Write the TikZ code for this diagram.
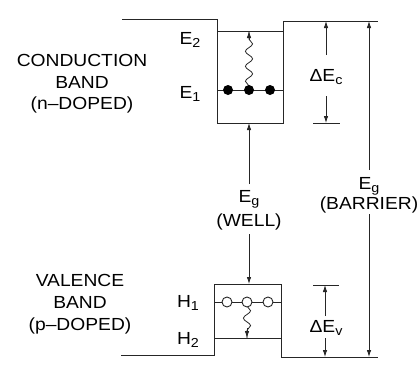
\documentclass[tikz,border=0pt]{standalone}
\usepackage{fontspec}
\setmainfont[FakeStretch=1.1]{Liberation Sans}
\usetikzlibrary{arrows.meta,decorations.pathmorphing}
\newcommand{\sbx}[1]{\raisebox{-0.35ex}{\fontsize{13}{13}\selectfont #1}}
\begin{document}
\begin{tikzpicture}[x=1pt,y=-1pt,
  line/.style={line width=0.9pt,black!85},
  arr/.style={line width=0.8pt,black!85,-{Latex[length=7pt,width=4.5pt]}},
  wavy/.style={line width=0.8pt,black!85,decorate,decoration={snake,segment length=15pt,amplitude=3.6pt,pre length=4pt,post length=7pt}},
  lbl/.style={font=\fontsize{17.5}{19}\selectfont,inner sep=0pt},
  elec/.style={circle,fill=black,inner sep=0pt,minimum size=10pt},
  hole/.style={circle,draw=black!85,line width=0.9pt,fill=white,inner sep=0pt,minimum size=10pt}]
\useasboundingbox (0,0) rectangle (417,367);
% band edges
\coordinate (cl) at (122,19);
\coordinate (wtl) at (217,19);
\coordinate (wbl) at (217,123);
\coordinate (wbr) at (283,123);
\coordinate (wtr) at (283,21);
\coordinate (cr) at (378,21);
\draw[line] (cl) -- (wtl) -- (wbl) -- (wbr) -- (wtr) -- (cr);
\coordinate (vl) at (121,355);
\coordinate (vbl) at (214,355);
\coordinate (vtl) at (214,284);
\coordinate (vtr) at (281,284);
\coordinate (vbr) at (281,357);
\coordinate (vr) at (378,357);
\draw[line] (vl) -- (vbl) -- (vtl) -- (vtr) -- (vbr) -- (vr);
% subband levels
\coordinate (e2l) at (217,31); \coordinate (e2r) at (283,31);
\coordinate (e1l) at (217,90); \coordinate (e1r) at (283,90);
\coordinate (h1l) at (214,302); \coordinate (h1r) at (281,302);
\coordinate (h2l) at (214,338); \coordinate (h2r) at (281,338);
\draw[line] (e2l) -- (e2r);
\draw[line] (e1l) -- (e1r);
\draw[line] (h1l) -- (h1r);
\draw[line] (h2l) -- (h2r);
% wavy transitions
\coordinate (e2m) at (249,31);
\coordinate (h2m) at (247,338);
\draw[wavy] (249,90) -- (e2m);
\draw[arr] (249,40) -- (e2m);
\draw[wavy] (247,302) -- (h2m);
\draw[arr] (247,328) -- (h2m);
% carriers
\node[elec] (n1) at (228,90) {};
\node[elec] (n2) at (249,90) {};
\node[elec] (n3) at (270,90) {};
\node[hole] (p1) at (227,302) {};
\node[hole] (p2) at (247,302) {};
\node[hole] (p3) at (268,302) {};
% level labels
\node[lbl] (E2) at (190,40) {E\sbx{2}};
\node[lbl] (E1) at (190,94) {E\sbx{1}};
\node[lbl] (H1) at (188,303) {H\sbx{1}};
\node[lbl] (H2) at (188,340) {H\sbx{2}};
% band labels
\node[lbl,align=center] (cb) at (82,84) {CONDUCTION\\[2.5pt]BAND\\[2.5pt](n--DOPED)};
\node[lbl,align=center] (vb) at (80,304) {VALENCE\\[3pt]BAND\\[3pt](p--DOPED)};
% well gap
\node[lbl] (egw) at (249,199) {E\sbx{g}};
\node[lbl] (wl) at (249,222) {(WELL)};
\coordinate (wb) at (249,123);
\coordinate (vt) at (249,284);
\draw[arr] (249,184) -- (wb);
\draw[arr] (249,234) -- (vt);
% barrier gap
\node[lbl] (egb) at (369,186) {E\sbx{g}};
\node[lbl] (bl) at (369,205) {(BARRIER)};
\coordinate (bt) at (369,21);
\coordinate (bb) at (369,357);
\draw[arr] (369,170) -- (bt);
\draw[arr] (369,214) -- (bb);
% Delta Ec
\coordinate (ct) at (326,21);
\coordinate (cb2) at (326,123);
\draw[line] (313,123) -- (340,123);
\node[lbl] (dec) at (326,77) {ΔE\sbx{c}};
\draw[arr] (326,55) -- (ct);
\draw[arr] (326,96) -- (cb2);
% Delta Ev
\coordinate (vt2) at (325,285);
\coordinate (vb2) at (325,357);
\draw[line] (313,285) -- (339,285);
\node[lbl] (dev) at (326,328) {ΔE\sbx{v}};
\draw[arr] (325,316) -- (vt2);
\draw[arr] (325,338) -- (vb2);
\end{tikzpicture}
\end{document}
